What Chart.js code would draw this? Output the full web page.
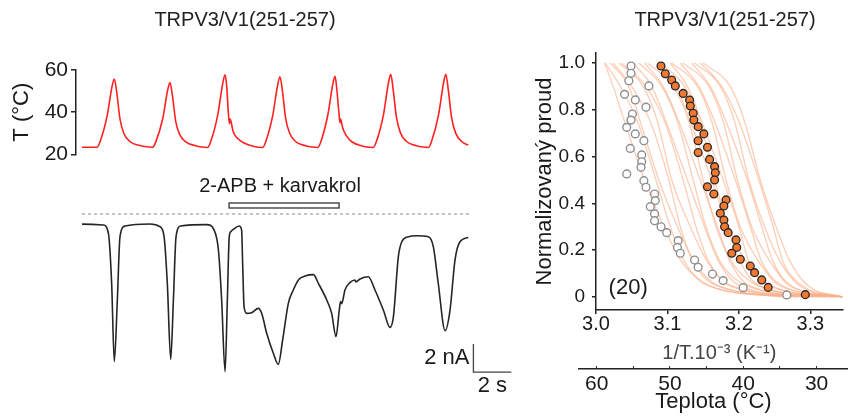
<!DOCTYPE html>
<html><head><meta charset="utf-8">
<script src="https://cdn.jsdelivr.net/npm/chart.js@4.4.1/dist/chart.umd.min.js"></script>
<style>
html,body{margin:0;padding:0;background:#fff;width:848px;height:417px;overflow:hidden}
canvas{position:absolute}
</style></head><body>
<canvas id="cT" width="480" height="170" style="left:0;top:0"></canvas>
<canvas id="cI" width="480" height="240" style="left:60px;top:160px"></canvas>
<canvas id="cR" width="348" height="417" style="left:500px;top:0"></canvas>
<canvas id="cC" width="288" height="77" style="left:560px;top:340px"></canvas>
<script>
// ---------- data ----------
const panelTitle = 'TRPV3/V1(251-257)';
const drugLabel = '2-APB + karvakrol';
const cellCount = '(20)';

// temperature trace (s, °C)
const tempTime = [0,0.79,0.95,1.32,1.58,1.70,1.83,2.00,2.21,2.53,3.05,3.40,
  3.72,3.88,4.25,4.51,4.63,4.76,4.93,5.14,5.46,5.98,6.30,
  6.62,6.78,7.15,7.41,7.53,7.62,7.70,7.76,7.79,7.84,7.96,8.20,8.50,9.00,
  9.51,9.67,10.04,10.30,10.42,10.55,10.72,10.93,11.25,11.77,12.10,
  12.41,12.57,12.94,13.20,13.32,13.41,13.52,13.58,13.61,13.65,13.74,13.92,14.20,14.70,15.00,
  15.33,15.50,15.87,16.13,16.25,16.38,16.55,16.76,17.08,17.60,17.95,
  18.24,18.40,18.77,19.03,19.15,19.28,19.45,19.66,19.98,20.33];
const tempValue = [23.4,23.4,26.0,38.1,52.1,55.7,49.3,36.7,29.8,26.0,24.2,23.6,
  23.4,25.8,37.0,50.5,54.0,47.8,35.8,29.5,25.9,24.1,23.5,
  23.3,26.2,39.0,53.8,57.7,52.0,40.0,34.6,36.9,35.6,30.7,27.5,25.5,23.9,
  23.3,26.0,38.5,53.0,56.8,50.0,37.0,30.0,26.0,24.1,23.5,
  23.3,26.0,38.8,53.3,57.0,51.0,40.0,35.0,36.8,35.4,32.0,28.8,26.0,24.1,23.5,
  23.3,26.2,39.0,54.0,58.0,50.5,37.5,30.2,26.1,24.1,23.5,
  23.3,26.2,39.0,54.0,58.0,50.5,37.5,30.2,26.1,24.4];

// current trace (s, nA)
const curTime = [0.00,1.12,1.39,1.56,1.70,1.86,2.00,2.26,3.58,4.10,4.32,4.49,4.67,4.81,4.95,5.19,
  6.56,6.95,7.18,7.35,7.53,7.65,7.75,7.83,7.96,8.28,8.40,8.46,8.53,8.67,8.93,9.28,9.46,9.72,10.07,10.33,
  10.56,10.86,11.12,11.39,11.74,12.18,12.44,12.88,13.14,13.37,13.54,13.61,13.67,13.84,14.10,14.37,14.42,
  14.63,15.07,15.42,15.86,16.21,16.39,16.65,16.83,17.18,17.61,18.23,18.49,18.75,19.11,19.37,19.63,19.89,20.33];
const curValue = [-0.72,-0.79,-1.38,-4.93,-10.55,-6.14,-1.62,-0.86,-0.71,-0.90,-1.62,-4.95,-10.38,-6.14,-1.62,-0.86,
  -0.76,-1.14,-2.57,-6.14,-11.26,-6.14,-1.62,-1.26,-1.10,-0.86,-1.14,-3.76,-6.62,-7.10,-7.05,-6.74,-7.10,-8.52,-9.95,-10.74,
  -9.00,-6.38,-5.43,-4.71,-4.43,-4.33,-4.95,-6.14,-7.10,-8.76,-6.86,-6.26,-6.40,-5.43,-4.90,-4.71,-4.85,
  -4.64,-4.48,-5.43,-6.86,-8.10,-7.33,-3.05,-1.98,-1.62,-1.55,-1.62,-2.33,-4.95,-8.33,-6.86,-3.29,-1.98,-1.67];
const zeroTime = [0, 20.37];
const zeroCurrent = [0, 0];
const drugWindow = [7.74, 13.53];      // s
const scaleBarOrigin = [20.6, -11.29]; // s, nA
const scaleBarSize = [2, 2];           // 2 s, 2 nA

// right panel: normalized current vs 1/T
const orangeX = [3.091,3.097,3.106,3.111,3.122,3.131,3.132,3.136,3.137,3.143,3.151,3.143,3.156,3.143,3.159,3.166,3.167,3.166,3.156,3.165,3.182,3.179,3.174,3.179,3.180,3.185,3.196,3.197,3.190,3.202,3.216,3.222,3.232,3.241,3.293];
const orangeY = [0.987,0.954,0.927,0.902,0.870,0.842,0.816,0.785,0.756,0.728,0.697,0.668,0.640,0.617,0.588,0.557,0.531,0.500,0.471,0.440,0.415,0.389,0.358,0.329,0.300,0.275,0.244,0.212,0.187,0.161,0.132,0.104,0.073,0.041,0.010];
const grayX = [3.049,3.049,3.046,3.074,3.040,3.055,3.070,3.051,3.049,3.043,3.055,3.067,3.048,3.064,3.064,3.063,3.043,3.067,3.070,3.082,3.083,3.076,3.082,3.082,3.091,3.099,3.115,3.114,3.118,3.138,3.143,3.163,3.178,3.206,3.267];
const grayY = [0.987,0.956,0.924,0.902,0.866,0.842,0.811,0.782,0.756,0.725,0.697,0.668,0.635,0.607,0.578,0.554,0.526,0.497,0.469,0.440,0.412,0.386,0.355,0.326,0.300,0.275,0.241,0.212,0.187,0.158,0.127,0.098,0.070,0.040,0.009];
const curveLevels = [1.0,0.9,0.75,0.5,0.3,0.15,0.05,0.0];
const curveX = [
  [3.012,3.024,3.040,3.068,3.095,3.120,3.158,3.262],
  [3.013,3.034,3.058,3.084,3.104,3.124,3.156,3.275],
  [3.020,3.046,3.062,3.088,3.114,3.138,3.170,3.282],
  [3.024,3.050,3.076,3.102,3.118,3.136,3.168,3.290],
  [3.032,3.066,3.086,3.106,3.132,3.156,3.186,3.300],
  [3.036,3.070,3.096,3.122,3.140,3.158,3.188,3.312],
  [3.052,3.078,3.098,3.128,3.152,3.172,3.200,3.305],
  [3.060,3.092,3.114,3.136,3.154,3.174,3.210,3.322],
  [3.068,3.094,3.116,3.146,3.170,3.188,3.214,3.318],
  [3.072,3.108,3.130,3.150,3.168,3.190,3.226,3.330],
  [3.086,3.112,3.132,3.162,3.184,3.202,3.228,3.334],
  [3.090,3.124,3.146,3.166,3.186,3.210,3.242,3.340],
  [3.104,3.128,3.148,3.178,3.200,3.214,3.244,3.338],
  [3.106,3.142,3.162,3.182,3.202,3.228,3.256,3.345],
  [3.118,3.144,3.166,3.195,3.216,3.232,3.260,3.345],
  [3.122,3.158,3.178,3.198,3.218,3.244,3.270,3.345],
  [3.134,3.160,3.182,3.212,3.232,3.248,3.272,3.345],
  [3.138,3.174,3.194,3.214,3.236,3.258,3.284,3.345],
  [3.146,3.176,3.200,3.228,3.248,3.262,3.288,3.345],
  [3.150,3.188,3.208,3.230,3.252,3.272,3.296,3.345]
];
const xTickStep = 0.1, yTickStep = 0.2;
const tempAxisStep = 5;

// ---------- drawing ----------
const FONT = '"Liberation Sans", Arial, Helvetica, sans-serif';
Chart.defaults.font.family = FONT;
Chart.defaults.color = '#1a1a1a';
const AX = '#222';
const base = {responsive:false, animation:false, events:[],
  plugins:{legend:{display:false}, tooltip:{enabled:false}}};

function textAt(ctx, text, x, y, size, align, color){
  ctx.save();
  ctx.font = size + 'px ' + FONT;
  ctx.fillStyle = color || '#1a1a1a';
  ctx.textAlign = align || 'center';
  ctx.textBaseline = 'middle';
  ctx.fillText(text, x, y);
  ctx.restore();
}
const pts = (xs, ys) => xs.map((v,i)=>({x:v, y:ys[i]}));

// temperature chart
new Chart(document.getElementById('cT'), {
  type:'line',
  data:{datasets:[{data:pts(tempTime,tempValue), borderColor:'#ff2020', borderWidth:1.6,
    pointRadius:0, cubicInterpolationMode:'monotone', fill:false}]},
  options:Object.assign({}, base, {
    layout:{padding:{left:0,right:0,top:70,bottom:14}},
    scales:{
      x:{type:'linear', display:false, min:-0.3158, max:20.947},
      y:{type:'linear', min:20, max:60, afterFit(s){s.width=76;},
        border:{display:true,color:AX,width:1.5},
        grid:{drawOnChartArea:false, tickLength:5, color:AX, lineWidth:1.5},
        ticks:{stepSize:10, padding:3, font:{size:21}, callback:v=> v%20===0 ? String(v) : ''},
        title:{display:true, text:'T (°C)', font:{size:22}, padding:{top:9,bottom:0}}
      }
    }
  }),
  plugins:[{id:'ttl', afterDraw(c){ textAt(c.ctx, panelTitle, 245, 20, 20, 'center', '#222'); }}]
});

// current chart
new Chart(document.getElementById('cI'), {
  type:'line',
  data:{datasets:[
    {data:pts(curTime,curValue), borderColor:'#252525', borderWidth:1.6, pointRadius:0, cubicInterpolationMode:'monotone', fill:false},
    {data:pts(zeroTime,zeroCurrent), borderColor:'#8c8c8c', borderWidth:1, borderDash:[3,3], pointRadius:0, fill:false}
  ]},
  options:Object.assign({}, base, {
    layout:{padding:{left:16,right:0,top:12,bottom:18}},
    scales:{
      x:{type:'linear', display:false, min:-0.3158, max:24.105},
      y:{type:'linear', display:false, min:-12, max:3}
    }
  }),
  plugins:[{id:'annot', afterDraw(c){
    const ctx=c.ctx, x=c.scales.x, y=c.scales.y;
    const x0=x.getPixelForValue(drugWindow[0]), x1=x.getPixelForValue(drugWindow[1]);
    const z=y.getPixelForValue(0);
    ctx.save();
    ctx.strokeStyle='#333'; ctx.lineWidth=1.3;
    ctx.strokeRect(x0, z-11, x1-x0, 5);
    ctx.restore();
    textAt(ctx, drugLabel, (x0+x1)/2-4, z-28, 20);
    // scale bars
    const bx=x.getPixelForValue(scaleBarOrigin[0]), by=y.getPixelForValue(scaleBarOrigin[1]);
    const bxe=x.getPixelForValue(scaleBarOrigin[0]+scaleBarSize[0]);
    const bye=y.getPixelForValue(scaleBarOrigin[1]+scaleBarSize[1]);
    ctx.save();
    ctx.strokeStyle='#444'; ctx.lineWidth=1.3;
    ctx.beginPath(); ctx.moveTo(bx,bye); ctx.lineTo(bx,by); ctx.lineTo(bxe,by); ctx.stroke();
    ctx.restore();
    textAt(ctx, scaleBarSize[1]+' nA', bx-4, (by+bye)/2, 22, 'right');
    textAt(ctx, scaleBarSize[0]+' s', (bx+bxe)/2, by+14, 22, 'center');
  }}]
});

// right chart
const curveSets = curveX.map(xs => ({data:pts(xs, curveLevels), borderColor:'rgba(250,176,138,0.62)',
  borderWidth:1.3, pointRadius:0, cubicInterpolationMode:'monotone', fill:false, order:3}));
new Chart(document.getElementById('cR'), {
  type:'line',
  data:{datasets:[
    {data:pts(orangeX,orangeY), showLine:false, pointRadius:3.9, pointBackgroundColor:'#f07a32',
      pointBorderColor:'#262626', pointBorderWidth:1.3, order:0},
    {data:pts(grayX,grayY), showLine:false, pointRadius:3.9, pointBackgroundColor:'#ffffff',
      pointBorderColor:'#8e8e8e', pointBorderWidth:1.4, order:1}
  ].concat(curveSets)},
  options:Object.assign({}, base, {
    layout:{padding:{left:0,right:0,top:53,bottom:49}},
    scales:{
      x:{type:'linear', min:3.0, max:3.3452, afterFit(s){s.height=58;},
        border:{color:AX,width:1.5},
        grid:{drawOnChartArea:false, tickLength:4, color:AX, lineWidth:1.5},
        ticks:{stepSize:xTickStep, includeBounds:false, padding:-2, font:{size:20}, maxRotation:0, autoSkip:false,
          callback:v=>v.toFixed(1)},
        title:{display:true, text:'1/T.10⁻³ (K⁻¹)', font:{size:20}, color:'#444', padding:{top:0,bottom:3}}
      },
      y:{type:'linear', min:-0.0556, max:1.0427, afterFit(s){s.width=96;},
        border:{color:AX,width:1.5},
        grid:{drawOnChartArea:false, tickLength:4, color:AX, lineWidth:1.5},
        ticks:{stepSize:yTickStep, includeBounds:false, padding:7, font:{size:19},
          callback:v=> Math.abs(v)<1e-9 ? '0' : v.toFixed(1)},
        title:{display:true, text:'Normalizovaný proud', font:{size:22}, padding:{top:32,bottom:0}}
      }
    }
  }),
  plugins:[{id:'ttl2', afterDraw(c){
    textAt(c.ctx, panelTitle, 225, 20, 20, 'center', '#222');
    textAt(c.ctx, cellCount, c.scales.x.getPixelForValue(3.045), c.scales.y.getPixelForValue(0.04), 22);
  }}]
});

// temperature (°C) secondary axis
new Chart(document.getElementById('cC'), {
  type:'line',
  data:{datasets:[]},
  options:Object.assign({}, base, {
    layout:{padding:{left:19,right:0,top:26,bottom:0}},
    scales:{
      x:{type:'linear', reverse:true, min:25.72, max:62.41, afterFit(s){s.height=48;},
        border:{color:AX,width:1.5},
        grid:{drawOnChartArea:true, drawTicks:false, color:'#333', lineWidth:1},
        ticks:{stepSize:tempAxisStep, includeBounds:false, padding:3, font:{size:21}, maxRotation:0, autoSkip:false,
          callback:v=> v%10===0 ? String(v) : ''},
        title:{display:true, text:'Teplota (°C)', font:{size:22}, padding:{top:0,bottom:2}}
      },
      y:{type:'linear', display:false, min:0, max:1}
    }
  })
});
</script>
</body></html>
